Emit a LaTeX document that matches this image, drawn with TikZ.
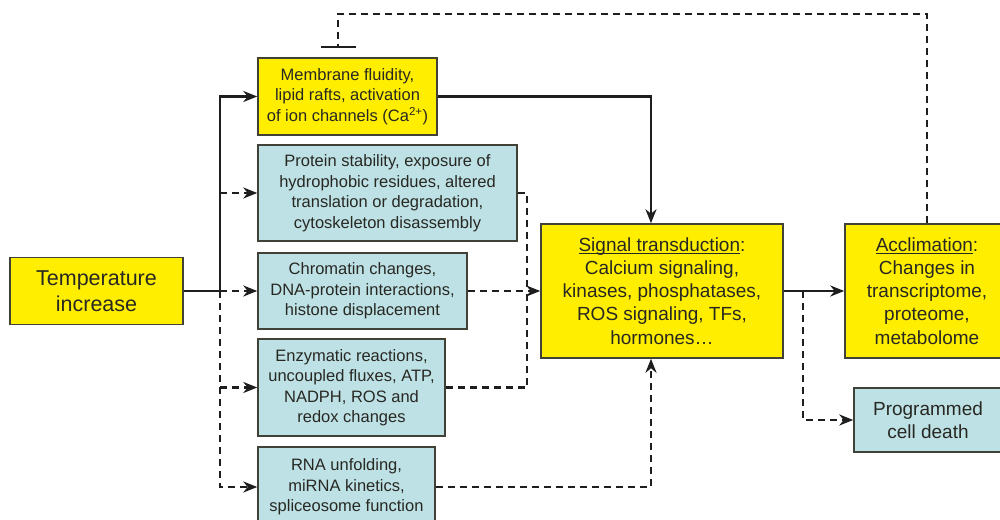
\documentclass[tikz,border=0pt]{standalone}
\usepackage{fontspec}
\setmainfont{Liberation Sans}
\usetikzlibrary{arrows.meta,calc}

\definecolor{hotyellow}{RGB}{255,238,0}
\definecolor{paleblue}{RGB}{190,225,229}
\definecolor{boxline}{RGB}{65,65,55}
\definecolor{lnk}{RGB}{30,30,30}
\definecolor{txt}{RGB}{40,40,35}

% underline set close to the baseline
\newcommand\tightul[1]{\setbox0\hbox{#1}\rlap{\rule[-2.2pt]{\wd0}{0.9pt}}#1}

\tikzset{
  box/.style={draw=boxline, line width=1.5pt, align=center, inner sep=0pt,
    text=txt, font=\fontsize{16.5}{20.5}\selectfont},
  ybox/.style={box, fill=hotyellow},
  bbox/.style={box, fill=paleblue},
  bigtext/.style={font=\fontsize{19}{23.2}\selectfont},
  link/.style={draw=lnk, line width=2.3pt},
  dsh/.style={link, dash pattern=on 7pt off 5pt},
  tip/.style={-{Stealth[length=14pt,width=11pt,inset=4.5pt]}},
  blocker/.style={-{Bar[width=35pt,line width=2.3pt]}},
}

\begin{document}
\begin{tikzpicture}[x=1pt,y=-1pt]
\useasboundingbox[fill=white] (0,0) rectangle (1000,519);

% stimulus
\node[ybox, minimum width=173pt, minimum height=67pt,
      font=\fontsize{21.5}{26}\selectfont] (temp) at (96.5,291)
  {Temperature\\increase};

% primary sensing processes
\node[ybox, minimum width=179pt, minimum height=77pt] (mem) at (347.5,96.5)
  {Membrane fluidity,\\lipid rafts, activation\\of ion channels (Ca\textsuperscript{2+})};
\node[bbox, minimum width=259pt, minimum height=96pt] (prot) at (387.5,193)
  {Protein stability, exposure of\\hydrophobic residues, altered\\translation or degradation,\\cytoskeleton disassembly};
\node[bbox, minimum width=209pt, minimum height=76pt] (chrom) at (362.5,291)
  {Chromatin changes,\\DNA-protein interactions,\\histone displacement};
\node[bbox, minimum width=187pt, minimum height=97pt] (enz) at (351.5,387.5)
  {Enzymatic reactions,\\uncoupled fluxes, ATP,\\NADPH, ROS and\\redox changes};
\node[bbox, minimum width=177pt, minimum height=80pt] (rna) at (346.5,487)
  {RNA unfolding,\\miRNA kinetics,\\spliceosome function};

% downstream responses
\node[ybox, bigtext, minimum width=242pt, minimum height=134pt] (sig) at (662,291)
  {\tightul{Signal transduction}:\\Calcium signaling,\\kinases, phosphatases,\\ROS signaling, TFs,\\hormones…};
\node[ybox, bigtext, minimum width=164pt, minimum height=134pt] (acc) at (927,291)
  {\tightul{Acclimation}:\\Changes in\\transcriptome,\\proteome,\\metabolome};
\node[bbox, bigtext, minimum width=148pt, minimum height=64pt] (prog) at (928,420)
  {Programmed\\cell death};

% junction points
\coordinate (trunk) at (220,291);
\coordinate (merge) at (527,291);
\coordinate (split) at (803,291);
\coordinate (loop) at (338,14);

% fan-out from the stimulus
\draw[link] (temp.east) -- (trunk);
\draw[link, tip] (trunk) |- (mem.west);
\draw[dsh, tip] (trunk |- prot.west) -- (prot.west);
\draw[dsh, tip] (trunk) -- (chrom.west);
\draw[dsh, tip] (trunk |- enz.west) -- (enz.west);
\draw[dsh, tip] (trunk) |- (rna.west);

% convergence on signal transduction
\draw[link, tip] (mem.east) -| ($(sig.north)+(-11,0)$);
\draw[dsh] (prot.east) -| (merge);
\draw[dsh] (enz.east) -| (merge);
\draw[dsh, tip] (chrom.east) -- (sig.west);
\draw[dsh, tip] (rna.east) -| ($(sig.south)+(-11,0)$);

% outcomes
\draw[link, tip] (sig.east) -- (acc.west);
\draw[dsh, tip] (split) |- (prog.west);

% feedback inhibition of membrane sensing
\draw[dsh, blocker] (acc.north) |- (loop) -- ($(mem.north -| loop)+(0,-9)$);
\end{tikzpicture}
\end{document}
